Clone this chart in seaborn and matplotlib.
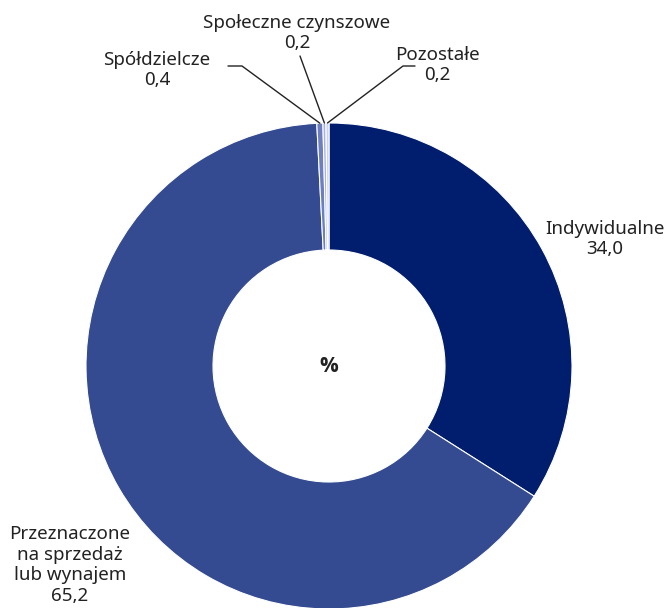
import numpy as np
import matplotlib
matplotlib.use("Agg")
import matplotlib.pyplot as plt
import seaborn as sns

# data
labels = ["Indywidualne", "Przeznaczone\nna sprzedaż\nlub wynajem", "Spółdzielcze",
          "Społeczne czynszowe", "Pozostałe"]
values = [34.0, 65.2, 0.4, 0.2, 0.2]
colors = ["#001d6e", "#344a91", "#6d7fbf", "#a7b3dd", "#cdd4ec"]

sns.set_theme(style="white")
plt.rcParams["font.family"] = ["Noto Sans", "DejaVu Sans"]

W, H = 670, 608
fig = plt.figure(figsize=(W / 100, H / 100), dpi=100)
cx, cy, R = 329, 366, 243
ax = fig.add_axes([(cx - R) / W, (H - cy - R) / H, 2 * R / W, 2 * R / H])

wedges, _ = ax.pie(values, colors=colors, startangle=90, counterclock=False, radius=1,
                   wedgeprops=dict(width=1 - 116 / R, edgecolor="white", linewidth=0.8))
ax.set_xlim(-1, 1)
ax.set_ylim(-1, 1)
ax.axis("off")

ax.text(0, 0, "%", ha="center", va="center", fontsize=15, fontweight="bold",
        family="Open Sans", color="#222222")


def px(x, y):
    return (x - cx) / R, (cy - y) / R


txt = dict(ha="center", va="center", fontsize=13.5, color="#222222", linespacing=1.2)

# big slices: plain labels
for i, (lx, ly) in [(0, (605, 239)), (1, (70, 565))]:
    ax.text(*px(lx, ly), f"{labels[i]}\n{values[i]:.1f}".replace(".", ","),
            clip_on=False, **txt)

# small slices: labels with leader lines
small = {2: ((157, 70), [(228, 66), (242, 66)]),
         3: ((297, 33), [(300, 56)]),
         4: ((437, 65), [(415, 66), (403, 66)])}
for i, ((lx, ly), pts) in small.items():
    w = wedges[i]
    ang = np.deg2rad((w.theta1 + w.theta2) / 2)
    ex, ey = np.cos(ang), np.sin(ang)
    path = [px(*p) for p in pts] + [(ex, ey)]
    xs, ys = zip(*path)
    ax.plot(xs, ys, color="#222222", lw=1, clip_on=False)
    ax.text(*px(lx, ly), f"{labels[i]}\n{values[i]:.1f}".replace(".", ","),
            clip_on=False, **txt)

fig.savefig("out.png", dpi=100, facecolor="white")
